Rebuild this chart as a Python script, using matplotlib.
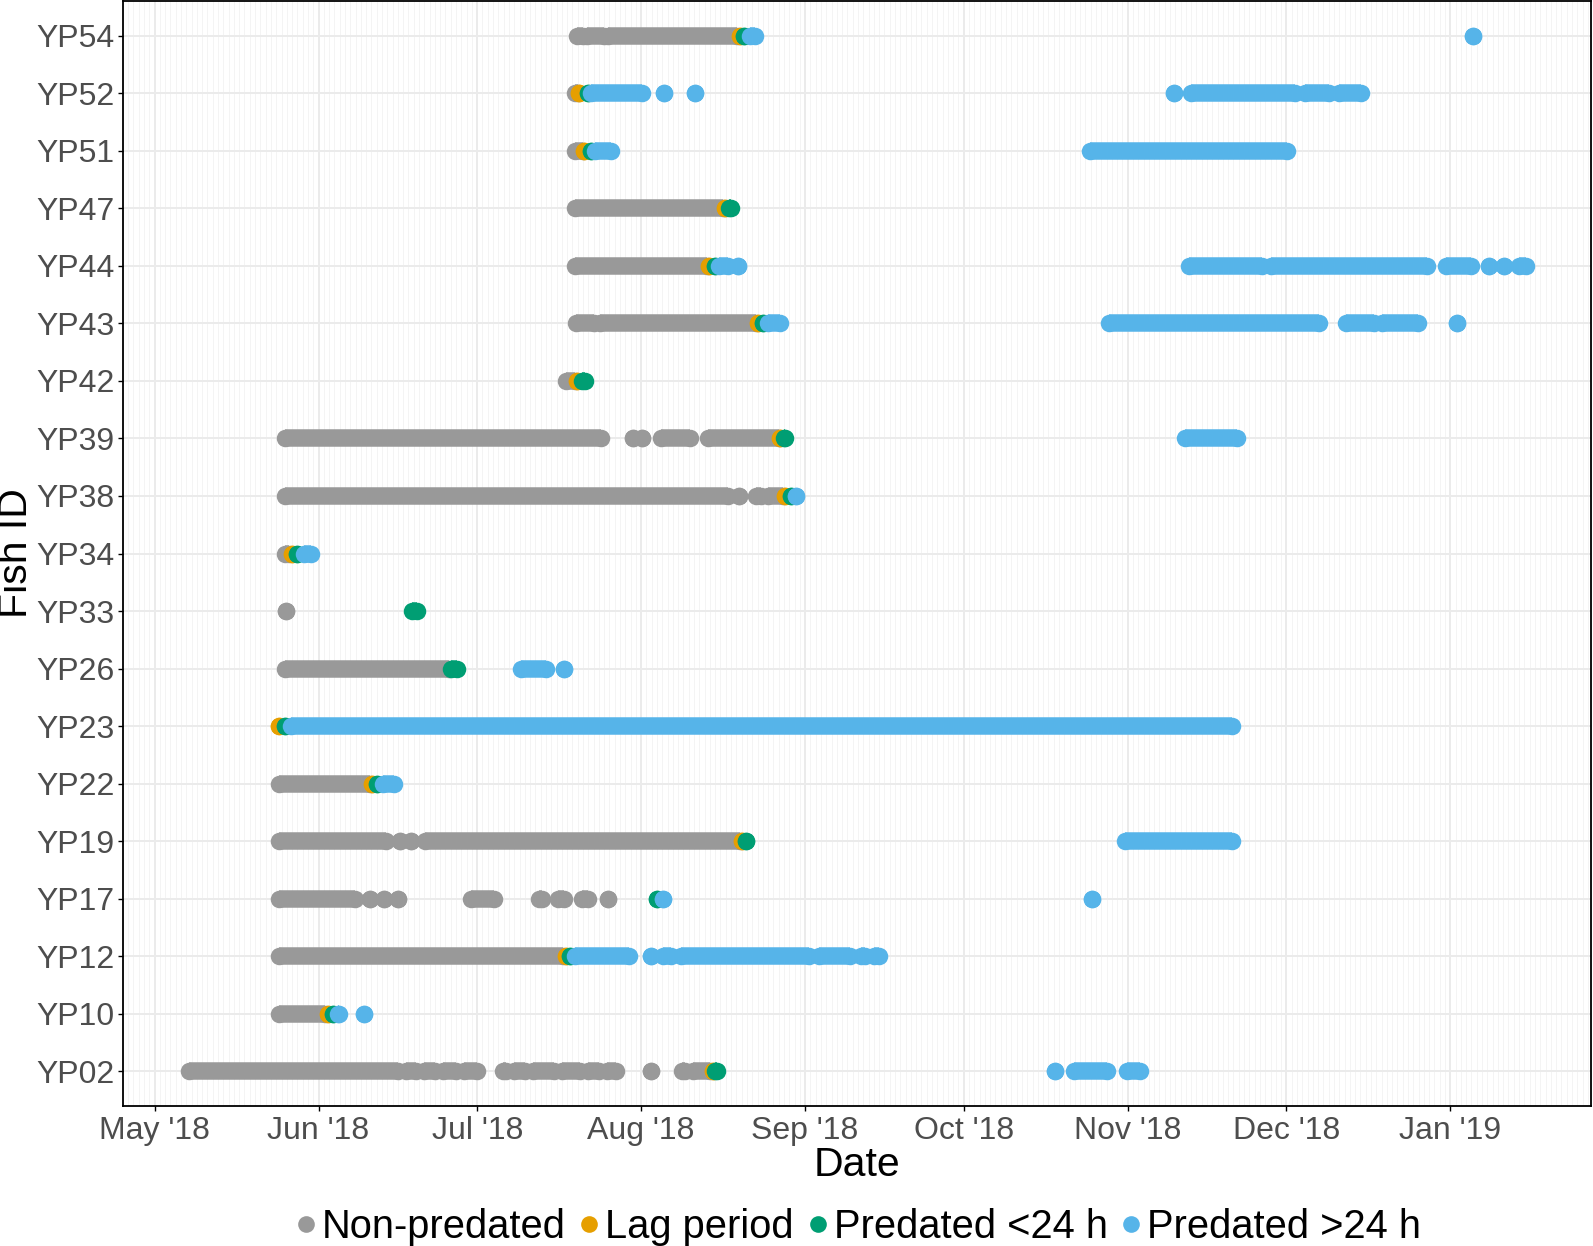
import matplotlib
matplotlib.use('Agg')
import matplotlib.pyplot as plt
import matplotlib.dates as mdates
from matplotlib.lines import Line2D
import numpy as np
import pandas as pd

plt.rcParams['font.family'] = ['Liberation Sans', 'DejaVu Sans']

# detection runs: (fish, first day, last day), days counted from 1 May 2018
t0 = pd.Timestamp('2018-05-01')

fish_ids = ['YP02', 'YP10', 'YP12', 'YP17', 'YP19', 'YP22', 'YP23', 'YP26', 'YP33', 'YP34',
            'YP38', 'YP39', 'YP42', 'YP43', 'YP44', 'YP47', 'YP51', 'YP52', 'YP54']

non_predated = [
    ('YP54', 79.8, 81.0), ('YP54', 81.8, 85.0), ('YP54', 85.8, 110.2),
    ('YP52', 79.5, 80.0),
    ('YP51', 79.5, 81.0),
    ('YP47', 79.5, 107.4),
    ('YP44', 79.5, 104.5),
    ('YP43', 79.7, 83.0), ('YP43', 84.3, 113.7),
    ('YP42', 77.7, 79.5),
    ('YP39', 24.7, 84.4), ('YP39', 90.5, 90.5), ('YP39', 92.2, 92.2), ('YP39', 95.8, 101.3),
    ('YP39', 104.7, 118.0),
    ('YP38', 24.7, 108.5), ('YP38', 110.5, 110.5), ('YP38', 113.7, 114.6), ('YP38', 116.0, 118.8),
    ('YP34', 24.6, 25.5),
    ('YP33', 24.9, 24.9),
    ('YP26', 24.6, 55.6),
    ('YP22', 23.6, 40.7),
    ('YP19', 23.6, 43.7), ('YP19', 46.4, 46.4), ('YP19', 48.5, 48.5), ('YP19', 51.2, 110.6),
    ('YP17', 23.6, 37.8), ('YP17', 40.7, 40.7), ('YP17', 43.3, 43.3), ('YP17', 46.0, 46.0),
    ('YP17', 59.9, 64.2), ('YP17', 72.6, 73.3), ('YP17', 76.3, 77.5), ('YP17', 80.8, 81.9),
    ('YP17', 85.7, 85.7),
    ('YP12', 23.6, 77.3),
    ('YP10', 23.6, 32.3),
    ('YP02', 6.5, 46.0), ('YP02', 47.5, 49.5), ('YP02', 51.0, 53.0), ('YP02', 54.5, 57.0),
    ('YP02', 58.5, 61.0), ('YP02', 65.8, 66.5), ('YP02', 68.0, 70.0), ('YP02', 71.5, 75.5),
    ('YP02', 77.0, 80.5), ('YP02', 82.0, 84.0), ('YP02', 85.5, 87.3), ('YP02', 93.9, 93.9),
    ('YP02', 99.7, 100.3), ('YP02', 101.8, 105.0),
]

lag_period = [
    ('YP54', 110.6, 110.6), ('YP52', 80.2, 80.2), ('YP51', 81.2, 81.2), ('YP47', 107.8, 107.8),
    ('YP44', 104.8, 104.8), ('YP43', 114.1, 114.1), ('YP42', 79.8, 79.8), ('YP39', 118.3, 118.3),
    ('YP38', 119.2, 119.2), ('YP34', 25.9, 25.9), ('YP23', 23.6, 23.6), ('YP22', 41.1, 41.1),
    ('YP19', 111.0, 111.0), ('YP12', 77.7, 77.7), ('YP10', 32.7, 32.7), ('YP02', 105.5, 105.5),
]

predated_lt24 = [
    ('YP54', 111.4, 111.4), ('YP52', 82.0, 82.0), ('YP51', 82.5, 82.5), ('YP47', 108.6, 108.9),
    ('YP44', 105.9, 105.9), ('YP43', 115.1, 115.1), ('YP42', 80.8, 81.4), ('YP39', 119.0, 119.2),
    ('YP38', 120.3, 120.3), ('YP34', 27.0, 27.0), ('YP33', 48.7, 49.7), ('YP26', 56.0, 57.1),
    ('YP23', 24.7, 24.7), ('YP22', 42.1, 42.1), ('YP19', 111.9, 111.9), ('YP17', 95.0, 95.0),
    ('YP12', 78.5, 78.5), ('YP10', 33.7, 33.7), ('YP02', 105.9, 106.4),
]

predated_gt24 = [
    ('YP54', 112.5, 113.6), ('YP54', 249.2, 249.2),
    ('YP52', 82.5, 92.1), ('YP52', 96.3, 96.3), ('YP52', 102.1, 102.1), ('YP52', 192.7, 192.7),
    ('YP52', 195.9, 215.6), ('YP52', 217.5, 222.0), ('YP52', 224.0, 228.2),
    ('YP51', 83.3, 86.3), ('YP51', 176.9, 214.2),
    ('YP44', 106.7, 108.5), ('YP44', 110.4, 110.4), ('YP44', 195.5, 209.3), ('YP44', 211.0, 240.6),
    ('YP44', 244.2, 249.0), ('YP44', 252.3, 252.3), ('YP44', 255.2, 255.2), ('YP44', 258.0, 259.3),
    ('YP43', 116.0, 118.2), ('YP43', 180.5, 220.2), ('YP43', 225.2, 230.5), ('YP43', 232.0, 238.9),
    ('YP43', 246.3, 246.3),
    ('YP39', 194.9, 204.7),
    ('YP38', 121.3, 121.3),
    ('YP34', 28.2, 29.6),
    ('YP26', 69.2, 74.1), ('YP26', 77.4, 77.4),
    ('YP23', 25.7, 203.8),
    ('YP22', 43.1, 45.2),
    ('YP19', 183.4, 203.8),
    ('YP17', 96.2, 96.2), ('YP17', 177.2, 177.2),
    ('YP12', 79.5, 89.7), ('YP12', 93.9, 93.9), ('YP12', 96.2, 97.6), ('YP12', 99.5, 123.7),
    ('YP12', 125.6, 131.4), ('YP12', 133.6, 134.3), ('YP12', 136.0, 136.9),
    ('YP10', 34.6, 34.9), ('YP10', 39.6, 39.6),
    ('YP02', 170.3, 170.3), ('YP02', 173.8, 180.1), ('YP02', 183.8, 186.4),
]

status_names = ['Non-predated', 'Lag period', 'Predated <24 h', 'Predated >24 h']
status_runs = [non_predated, lag_period, predated_lt24, predated_gt24]
status_colors = ['#999999', '#E69F00', '#009E73', '#56B4E9']

dot = 12.6  # marker diameter in points

fig = plt.figure(figsize=(15.93, 12.46), dpi=100)
ax = fig.add_axes([122.7 / 1593, 1 - 1106 / 1246, (1591 - 122.7) / 1593, 1105 / 1246])

base = mdates.date2num(t0.to_pydatetime())
for k in range(len(status_runs)):
    col = status_colors[k]
    for fish, a, b in status_runs[k]:
        y = fish_ids.index(fish)
        if b > a:
            ax.plot([base + a, base + b], [y, y], color=col, lw=dot,
                    solid_capstyle='butt', zorder=3 + k)
        ax.scatter([base + a, base + b], [y, y], s=dot ** 2, color=col,
                   linewidths=0, zorder=3 + k)

ax.set_xlim(base - 6.03, base + 271.6)
ax.set_ylim(-0.6, len(fish_ids) - 0.4)
ax.set_yticks(range(len(fish_ids)))
ax.set_yticklabels(fish_ids)

ax.xaxis.set_major_locator(mdates.MonthLocator())
ax.xaxis.set_major_formatter(mdates.DateFormatter("%b '%y"))
ax.xaxis.set_minor_locator(mdates.DayLocator())

ax.set_axisbelow(True)
ax.grid(which='major', color='#EBEBEB', lw=1.4)
ax.grid(which='minor', axis='x', color='#F2F2F2', lw=0.6)
ax.tick_params(which='minor', length=0)
ax.tick_params(which='major', direction='out', length=3.5, width=1.0, color='black',
               labelcolor='#4D4D4D', labelsize=23, pad=2.5)
ax.tick_params(axis='x', pad=3.5)
for sp in ax.spines.values():
    sp.set_color('black')
    sp.set_linewidth(1.3)

ax.set_xlabel('Date', fontsize=29.5, color='black')
ax.xaxis.label.set_va('center')
ax.xaxis.set_label_coords(0.5, -(1165 - 1106) / 1105)
ax.set_ylabel('Fish ID', fontsize=29.5, color='black')
ax.yaxis.label.set_va('center')
ax.yaxis.set_label_coords(-(122.7 - 16) / 1468, 0.5)

handles = [Line2D([], [], ls='none', marker='o', markersize=12, color=c, markeredgewidth=0)
           for c in status_colors]
fig.legend(handles, status_names, loc='center', bbox_to_anchor=(858.5 / 1593, 1 - 1227 / 1246),
           ncol=4, frameon=False, fontsize=28.7, handlelength=0.5, handletextpad=0.15,
           columnspacing=0.35, borderaxespad=0)

fig.savefig('out.png', dpi=100)
